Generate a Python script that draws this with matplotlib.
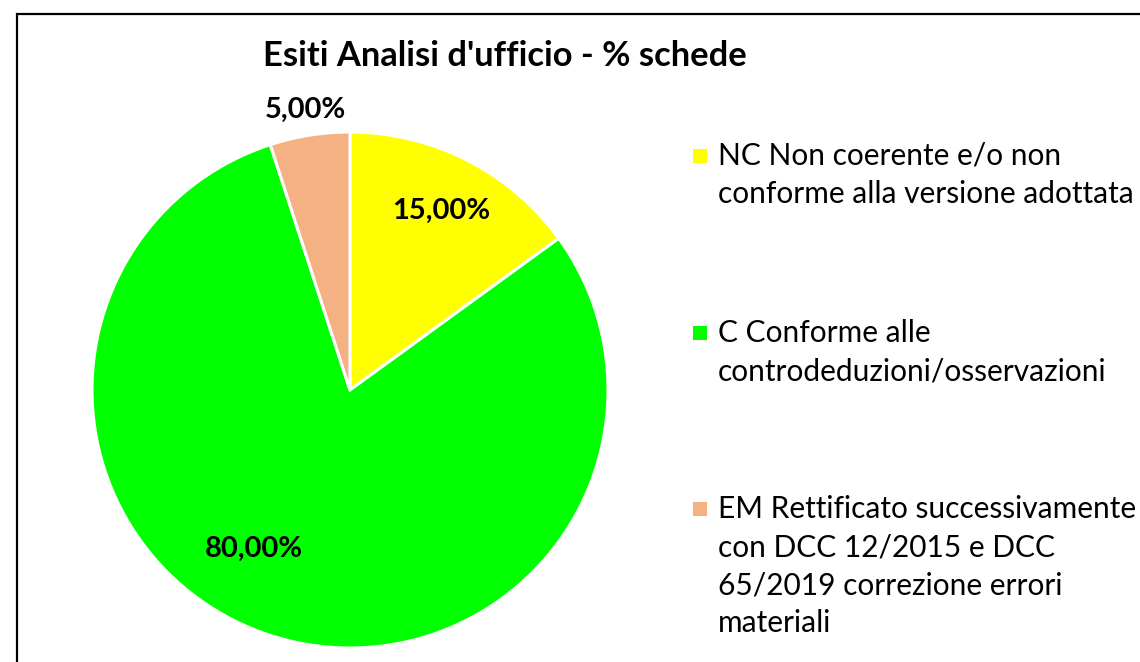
import matplotlib.pyplot as plt
import matplotlib.patches as patches
import numpy as np

plt.rcParams["font.family"] = ["Lato", "DejaVu Sans"]

categories = ["NC Non coerente e/o non\nconforme alla versione adottata",
              "C Conforme alle\ncontrodeduzioni/osservazioni",
              "EM Rettificato successivamente\ncon DCC 12/2015 e DCC\n65/2019 correzione errori\nmateriali"]
values = [15.0, 80.0, 5.0]
colors = ["#FFFF00", "#00FF00", "#F4B183"]
labels = ["15,00%", "80,00%", "5,00%"]

fig = plt.figure(figsize=(11.4, 6.62), dpi=100)

# frame (only left/top visible, rest is cropped)
fig.patches.append(patches.Rectangle((17 / 1140, -0.1), 1.2, 1.1 - 14 / 662,
                                     transform=fig.transFigure, fill=False,
                                     edgecolor="black", linewidth=1.6))

ax = fig.add_axes([92 / 1140, 14 / 662, 516 / 1140, 516 / 662])
wedges, _ = ax.pie(values, colors=colors, startangle=90, counterclock=False,
                   radius=1, wedgeprops=dict(edgecolor="white", linewidth=2.2))
ax.set_xlim(-1, 1)
ax.set_ylim(-1, 1)
ax.set_aspect("auto")
ax.axis("off")

# data labels
dists = [0.78, 0.72, 1.1]
shift = [0, -13, 0]
for w, lab, d, s in zip(wedges, labels, dists, shift):
    ang = np.deg2rad((w.theta1 + w.theta2) / 2 + s)
    ax.text(d * np.cos(ang), d * np.sin(ang), lab, ha="center", va="center",
            fontsize=21, fontweight="bold", color="black")

fig.text(505 / 1140, 1 - 66 / 662, "Esiti Analisi d'ufficio - % schede",
         ha="center", va="baseline", fontsize=24.8, fontweight="bold")

# legend, one line at a time (38 px line pitch)
baselines = [165, 342, 518]
for cat, col, b in zip(categories, colors, baselines):
    fig.patches.append(patches.Rectangle((693 / 1140, 1 - (b - 2) / 662),
                                         14 / 1140, 14 / 662,
                                         transform=fig.transFigure,
                                         facecolor=col, edgecolor="none"))
    for i, line in enumerate(cat.split("\n")):
        fig.text(718 / 1140, 1 - (b + 38 * i) / 662, line, ha="left",
                 va="baseline", fontsize=21.5)

fig.savefig("out.png", dpi=100)
